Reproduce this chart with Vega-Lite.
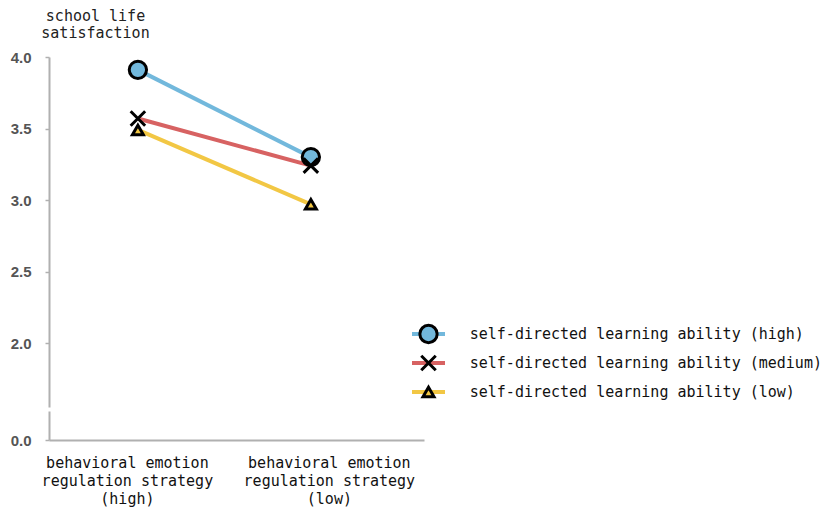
{
  "$schema": "https://vega.github.io/schema/vega-lite/v6.json",
  "width": 375,
  "height": 383,
  "padding": {"left": 10, "top": 8, "right": 5, "bottom": 5},
  "background": "white",
  "config": {"view": {"stroke": null}, "font": "DejaVu Sans Mono"},
  "datasets": {
    "points": [
      {"strategy": "behavioral emotion regulation strategy (high)", "series": "self-directed learning ability (high)", "value": 3.91},
      {"strategy": "behavioral emotion regulation strategy (low)", "series": "self-directed learning ability (high)", "value": 3.30},
      {"strategy": "behavioral emotion regulation strategy (high)", "series": "self-directed learning ability (medium)", "value": 3.57},
      {"strategy": "behavioral emotion regulation strategy (low)", "series": "self-directed learning ability (medium)", "value": 3.24},
      {"strategy": "behavioral emotion regulation strategy (high)", "series": "self-directed learning ability (low)", "value": 3.49},
      {"strategy": "behavioral emotion regulation strategy (low)", "series": "self-directed learning ability (low)", "value": 2.97}
    ],
    "legend": [
      {"series": "self-directed learning ability (high)"},
      {"series": "self-directed learning ability (medium)"},
      {"series": "self-directed learning ability (low)"}
    ]
  },
  "layer": [
    {
      "data": {"name": "points"},
      "encoding": {
        "x": {
          "field": "strategy", "type": "nominal",
          "sort": ["behavioral emotion regulation strategy (high)", "behavioral emotion regulation strategy (low)"],
          "scale": {"type": "point", "padding": 0.584, "align": 0.44},
          "axis": {
            "title": null, "ticks": false, "domainColor": "#b0b0b0", "domainWidth": 2,
            "labelAngle": 0, "labelFont": "DejaVu Sans Mono", "labelFontSize": 15, "labelColor": "#111",
            "labelBaseline": "top", "labelPadding": 15, "labelLineHeight": 18,
            "labelOffset": {"condition": {"test": "datum.value == 'behavioral emotion regulation strategy (high)'", "value": -11}, "value": 18},
            "labelExpr": "[slice(datum.label,0,18), slice(datum.label,19,38), slice(datum.label,39)]"
          }
        },
        "y": {
          "field": "value", "type": "quantitative",
          "scale": {"domain": [0, 2, 4], "range": [383, 286, 0], "zero": false, "nice": false},
          "axis": {
            "values": [0, 2, 2.5, 3, 3.5, 4], "format": ".1f", "grid": false,
            "domain": true, "domainColor": "#b0b0b0", "domainWidth": 2, "domainDash": [29, 4, 600],
            "tickSize": 4, "tickColor": "#b0b0b0", "tickWidth": 1.5, "labelPadding": 14,
            "labelFont": "Liberation Sans", "labelFontSize": 15, "labelFontWeight": "bold", "labelColor": "#555",
            "title": ["school life", "satisfaction"], "titleAngle": 0, "titleAlign": "center",
            "titleX": 46, "titleY": -34, "titleBaseline": "bottom", "titleFont": "DejaVu Sans Mono",
            "titleFontSize": 15, "titleFontWeight": "normal", "titleLineHeight": 17, "titleColor": "#222"
          }
        },
        "color": {
          "field": "series", "type": "nominal",
          "scale": {
            "domain": ["self-directed learning ability (high)", "self-directed learning ability (medium)", "self-directed learning ability (low)"],
            "range": ["#72B8DC", "#D76262", "#F2C744"]
          },
          "legend": null
        }
      },
      "layer": [
        {"mark": {"type": "line", "strokeWidth": 4}},
        {
          "mark": {"type": "point", "filled": true, "stroke": "black", "strokeWidth": 3, "opacity": 1},
          "encoding": {
            "shape": {
              "field": "series", "type": "nominal",
              "scale": {
                "domain": ["self-directed learning ability (high)", "self-directed learning ability (medium)", "self-directed learning ability (low)"],
                "range": ["circle", "M-1,-1L1,1M-1,1L1,-1", "triangle-up"]
              },
              "legend": null
            },
            "size": {
              "field": "series", "type": "nominal",
              "scale": {
                "domain": ["self-directed learning ability (high)", "self-directed learning ability (medium)", "self-directed learning ability (low)"],
                "range": [300, 120, 340]
              },
              "legend": null
            }
          }
        }
      ]
    },
    {
      "data": {"name": "legend"},
      "encoding": {
        "y": {
          "field": "series", "type": "nominal",
          "scale": {
            "type": "point", "padding": 0,
            "domain": ["self-directed learning ability (high)", "self-directed learning ability (medium)", "self-directed learning ability (low)"],
            "range": [277, 335]
          },
          "axis": null
        },
        "color": {"field": "series", "type": "nominal", "legend": null}
      },
      "layer": [
        {
          "mark": {"type": "rule", "strokeWidth": 4},
          "encoding": {
            "x": {"datum": 0, "type": "quantitative", "scale": {"domain": [0, 1], "range": [363, 396]}, "axis": null},
            "x2": {"datum": 1}
          }
        },
        {
          "mark": {"type": "point", "filled": true, "stroke": "black", "strokeWidth": 3, "opacity": 1},
          "encoding": {
            "x": {"datum": 0.5, "type": "quantitative"},
            "shape": {"field": "series", "type": "nominal", "legend": null},
            "size": {"field": "series", "type": "nominal", "legend": null}
          }
        },
        {
          "mark": {"type": "text", "align": "left", "baseline": "middle", "font": "DejaVu Sans Mono", "fontSize": 15, "color": "#111"},
          "encoding": {
            "x": {"datum": 1.75, "type": "quantitative"},
            "text": {"field": "series"},
            "color": null
          }
        }
      ]
    }
  ],
  "resolve": {"scale": {"x": "independent", "y": "independent"}}
}
